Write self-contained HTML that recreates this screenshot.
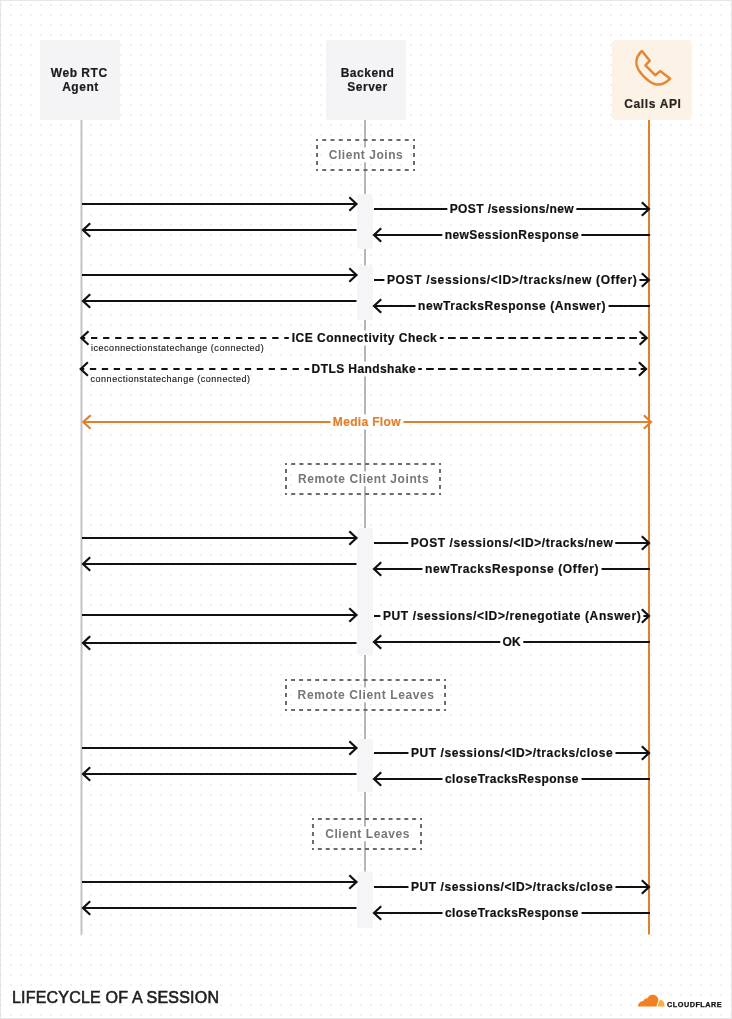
<!DOCTYPE html>
<html><head><meta charset="utf-8"><style>
html,body{margin:0;padding:0;}
body{width:732px;height:1019px;position:relative;overflow:hidden;background:#fff;will-change:transform;font-family:"Liberation Sans",sans-serif;}
#frame{position:absolute;left:0;top:0;width:730px;height:1017px;border:1px solid #e6e6e6;}
.box{position:absolute;top:40px;width:80px;height:80px;background:#f4f4f6;color:#1a1a1a;font-weight:bold;font-size:12px;text-align:center;line-height:14px;-webkit-text-stroke:0.2px currentColor}
.bt{position:absolute;left:0;right:0}
svg{position:absolute;left:0;top:0}
.lb{position:absolute;white-space:nowrap;line-height:15px;font-size:12px;font-weight:bold;transform:translate(-50%,-50%);}
.sub{position:absolute;white-space:nowrap;font-size:9px;line-height:11px;color:#1a1a1a;letter-spacing:0.53px;-webkit-text-stroke:0.15px #1a1a1a}
#title{position:absolute;left:12px;top:989px;font-size:16px;line-height:18px;color:#1f1f1f;letter-spacing:0.2px;-webkit-text-stroke:0.6px #1f1f1f}
#cf{position:absolute;left:666.5px;top:1001px;font-size:6.5px;line-height:7px;font-weight:bold;color:#111;letter-spacing:0.45px;transform:scaleX(1.12);transform-origin:0 0;-webkit-text-stroke:0.25px #111}
</style></head><body>
<div id="frame"></div>
<svg width="732" height="1019"><defs><pattern id="dots" x="0" y="0" width="10" height="10" patternUnits="userSpaceOnUse"><rect x="0" y="4" width="2" height="2" fill="#efefef"/></pattern></defs>
<rect x="1" y="1" width="730" height="1017" fill="url(#dots)"/></svg>
<div class="box" style="left:40px"><div class="bt" style="top:26px"><span style="letter-spacing:0.52px;position:relative;left:-0.8px">Web RTC</span><br><span style="letter-spacing:0.55px;position:relative;left:0.5px">Agent</span></div></div>
<div class="box" style="left:326px"><div class="bt" style="top:26px"><span style="letter-spacing:0.52px;position:relative;left:1.5px">Backend</span><br><span style="letter-spacing:0.5px;position:relative;left:1.5px">Server</span></div></div>
<div class="box" style="left:612px;background:#fdf2e6;border-radius:4px;color:#2a241f"><div class="bt" style="top:57px"><span style="letter-spacing:0.64px;position:relative;left:0.9px">Calls API</span></div></div>
<svg width="732" height="1019" viewBox="0 0 732 1019">
<path d="M641.9,51 L649.8,60.7 L645.4,65.4 L655.2,75.2 L660.2,71.1 L670,78.6 C666,83 661,85 656.5,84.5 C651,83.8 644,77.5 640,72 C635.5,66 634.5,58 641.9,51 Z" fill="none" stroke="#e6862f" stroke-width="2.5" stroke-linejoin="round"/>
<line x1="81.5" y1="120" x2="81.5" y2="934.5" stroke="#c4c4c4" stroke-width="2"/><line x1="365" y1="120" x2="365" y2="928" stroke="#b5b5b5" stroke-width="2"/><line x1="649" y1="120" x2="649" y2="934.5" stroke="#e0802d" stroke-width="2"/><rect x="357" y="194" width="16" height="55" rx="3" fill="#f5f5f7"/><rect x="357" y="265.5" width="16" height="54.5" rx="3" fill="#f5f5f7"/><rect x="357" y="528" width="16" height="127" rx="3" fill="#f5f5f7"/><rect x="357" y="739" width="16" height="53" rx="3" fill="#f5f5f7"/><rect x="357" y="871.5" width="16" height="56.5" rx="3" fill="#f5f5f7"/><line x1="316" y1="140" x2="415" y2="140" stroke="#6b6b6b" stroke-width="2" stroke-dasharray="2 4.250 4 4.250 4 4.250 4 4.250 4 4.250 4 4.250 4 4.250 4 4.250 4 4.250 4 4.250 4 4.250 4 4.250 2 100"/><line x1="316" y1="170" x2="415" y2="170" stroke="#6b6b6b" stroke-width="2" stroke-dasharray="2 4.250 4 4.250 4 4.250 4 4.250 4 4.250 4 4.250 4 4.250 4 4.250 4 4.250 4 4.250 4 4.250 4 4.250 2 100"/><line x1="317" y1="139" x2="317" y2="171" stroke="#6b6b6b" stroke-width="2" stroke-dasharray="2 4.000 4 4.000 4 4.000 4 4.000 2 100"/><line x1="414" y1="139" x2="414" y2="171" stroke="#6b6b6b" stroke-width="2" stroke-dasharray="2 4.000 4 4.000 4 4.000 4 4.000 2 100"/><line x1="285" y1="464" x2="441" y2="464" stroke="#6b6b6b" stroke-width="2" stroke-dasharray="2 4.211 4 4.211 4 4.211 4 4.211 4 4.211 4 4.211 4 4.211 4 4.211 4 4.211 4 4.211 4 4.211 4 4.211 4 4.211 4 4.211 4 4.211 4 4.211 4 4.211 4 4.211 4 4.211 2 100"/><line x1="285" y1="494" x2="441" y2="494" stroke="#6b6b6b" stroke-width="2" stroke-dasharray="2 4.211 4 4.211 4 4.211 4 4.211 4 4.211 4 4.211 4 4.211 4 4.211 4 4.211 4 4.211 4 4.211 4 4.211 4 4.211 4 4.211 4 4.211 4 4.211 4 4.211 4 4.211 4 4.211 2 100"/><line x1="286" y1="463" x2="286" y2="495" stroke="#6b6b6b" stroke-width="2" stroke-dasharray="2 4.000 4 4.000 4 4.000 4 4.000 2 100"/><line x1="440" y1="463" x2="440" y2="495" stroke="#6b6b6b" stroke-width="2" stroke-dasharray="2 4.000 4 4.000 4 4.000 4 4.000 2 100"/><line x1="285" y1="680" x2="446" y2="680" stroke="#6b6b6b" stroke-width="2" stroke-dasharray="2 4.050 4 4.050 4 4.050 4 4.050 4 4.050 4 4.050 4 4.050 4 4.050 4 4.050 4 4.050 4 4.050 4 4.050 4 4.050 4 4.050 4 4.050 4 4.050 4 4.050 4 4.050 4 4.050 4 4.050 2 100"/><line x1="285" y1="710" x2="446" y2="710" stroke="#6b6b6b" stroke-width="2" stroke-dasharray="2 4.050 4 4.050 4 4.050 4 4.050 4 4.050 4 4.050 4 4.050 4 4.050 4 4.050 4 4.050 4 4.050 4 4.050 4 4.050 4 4.050 4 4.050 4 4.050 4 4.050 4 4.050 4 4.050 4 4.050 2 100"/><line x1="286" y1="679" x2="286" y2="711" stroke="#6b6b6b" stroke-width="2" stroke-dasharray="2 4.000 4 4.000 4 4.000 4 4.000 2 100"/><line x1="445" y1="679" x2="445" y2="711" stroke="#6b6b6b" stroke-width="2" stroke-dasharray="2 4.000 4 4.000 4 4.000 4 4.000 2 100"/><line x1="312" y1="819" x2="422" y2="819" stroke="#6b6b6b" stroke-width="2" stroke-dasharray="2 3.857 4 3.857 4 3.857 4 3.857 4 3.857 4 3.857 4 3.857 4 3.857 4 3.857 4 3.857 4 3.857 4 3.857 4 3.857 4 3.857 2 100"/><line x1="312" y1="849" x2="422" y2="849" stroke="#6b6b6b" stroke-width="2" stroke-dasharray="2 3.857 4 3.857 4 3.857 4 3.857 4 3.857 4 3.857 4 3.857 4 3.857 4 3.857 4 3.857 4 3.857 4 3.857 4 3.857 4 3.857 2 100"/><line x1="313" y1="818" x2="313" y2="850" stroke="#6b6b6b" stroke-width="2" stroke-dasharray="2 4.000 4 4.000 4 4.000 4 4.000 2 100"/><line x1="421" y1="818" x2="421" y2="850" stroke="#6b6b6b" stroke-width="2" stroke-dasharray="2 4.000 4 4.000 4 4.000 4 4.000 2 100"/><line x1="82" y1="204" x2="355.5" y2="204" stroke="#111111" stroke-width="2"/><line x1="83" y1="230" x2="356.5" y2="230" stroke="#111111" stroke-width="2"/><line x1="82" y1="275" x2="355.5" y2="275" stroke="#111111" stroke-width="2"/><line x1="83" y1="301" x2="356.5" y2="301" stroke="#111111" stroke-width="2"/><line x1="82" y1="538" x2="355.5" y2="538" stroke="#111111" stroke-width="2"/><line x1="83" y1="564" x2="356.5" y2="564" stroke="#111111" stroke-width="2"/><line x1="82" y1="615" x2="355.5" y2="615" stroke="#111111" stroke-width="2"/><line x1="83" y1="643" x2="356.5" y2="643" stroke="#111111" stroke-width="2"/><line x1="82" y1="748" x2="355.5" y2="748" stroke="#111111" stroke-width="2"/><line x1="83" y1="774" x2="356.5" y2="774" stroke="#111111" stroke-width="2"/><line x1="82" y1="882" x2="355.5" y2="882" stroke="#111111" stroke-width="2"/><line x1="83" y1="908" x2="356.5" y2="908" stroke="#111111" stroke-width="2"/><line x1="374" y1="209" x2="648" y2="209" stroke="#111111" stroke-width="2"/><line x1="375" y1="235" x2="650" y2="235" stroke="#111111" stroke-width="2"/><line x1="374" y1="280" x2="648" y2="280" stroke="#111111" stroke-width="2"/><line x1="375" y1="306" x2="650" y2="306" stroke="#111111" stroke-width="2"/><line x1="374" y1="543" x2="648" y2="543" stroke="#111111" stroke-width="2"/><line x1="375" y1="569" x2="650" y2="569" stroke="#111111" stroke-width="2"/><line x1="374" y1="616" x2="648" y2="616" stroke="#111111" stroke-width="2"/><line x1="375" y1="642" x2="650" y2="642" stroke="#111111" stroke-width="2"/><line x1="374" y1="753" x2="648" y2="753" stroke="#111111" stroke-width="2"/><line x1="375" y1="779" x2="650" y2="779" stroke="#111111" stroke-width="2"/><line x1="374" y1="887" x2="648" y2="887" stroke="#111111" stroke-width="2"/><line x1="375" y1="913" x2="650" y2="913" stroke="#111111" stroke-width="2"/><line x1="82.3" y1="338" x2="365" y2="338" stroke="#111111" stroke-width="2" stroke-dasharray="6.3 5.780" stroke-dashoffset="3.380"/><line x1="365" y1="338" x2="645.8" y2="338" stroke="#111111" stroke-width="2" stroke-dasharray="7.7 4.380" stroke-dashoffset="1.560"/><line x1="81.7" y1="369" x2="365" y2="369" stroke="#111111" stroke-width="2" stroke-dasharray="6.3 5.620" stroke-dashoffset="3.720"/><line x1="365" y1="369" x2="645.1" y2="369" stroke="#111111" stroke-width="2" stroke-dasharray="7.7 4.220" stroke-dashoffset="10.460"/><line x1="83" y1="422" x2="650" y2="422" stroke="#e0802d" stroke-width="2"/>
<path d="M638,1006.6 C638,1003.6 640,1001.2 643.3,1001 C644.2,999 645.8,998.1 647.5,998.2 C648.6,995.9 650.5,994.8 652.8,994.8 C656,994.8 658.4,997.3 658.4,1000.3 L656.4,1006.6 Z" fill="#f38020"/>
<path d="M657.4,1006.6 L659.1,1001.3 C659.5,1000.5 660.1,1000 661,1000 C663.2,1000 664.6,1003 664.6,1006.6 Z" fill="#fbad41"/>
</svg>
<div class="lb" style="left:365.77px;top:154.7px;color:#777777;-webkit-text-stroke:0px #777777;letter-spacing:0.542px;background:#fff;padding:0 1.46px 0 2px">Client Joins</div><div class="lb" style="left:363.30px;top:478.7px;color:#777777;-webkit-text-stroke:0px #777777;letter-spacing:0.596px;background:#fff;padding:0 1.40px 0 2px">Remote Client Joints</div><div class="lb" style="left:365.81px;top:694.7px;color:#777777;-webkit-text-stroke:0px #777777;letter-spacing:0.614px;background:#fff;padding:0 1.39px 0 2px">Remote Client Leaves</div><div class="lb" style="left:367.28px;top:833.7px;color:#777777;-webkit-text-stroke:0px #777777;letter-spacing:0.559px;background:#fff;padding:0 1.44px 0 2px">Client Leaves</div><div class="lb" style="left:511.69px;top:209px;color:#111111;-webkit-text-stroke:0.2px #111111;letter-spacing:0.386px;background:#fff;padding:0 2.31px 0 2.7px">POST /sessions/new</div><div class="lb" style="left:511.71px;top:235px;color:#111111;-webkit-text-stroke:0.2px #111111;letter-spacing:0.427px;background:#fff;padding:0 2.27px 0 2.7px">newSessionResponse</div><div class="lb" style="left:511.83px;top:280px;color:#111111;-webkit-text-stroke:0.2px #111111;letter-spacing:0.659px;background:#fff;padding:0 2.04px 0 2.7px">POST /sessions/&lt;ID&gt;/tracks/new (Offer)</div><div class="lb" style="left:511.78px;top:306px;color:#111111;-webkit-text-stroke:0.2px #111111;letter-spacing:0.564px;background:#fff;padding:0 2.14px 0 2.7px">newTracksResponse (Answer)</div><div class="lb" style="left:511.79px;top:543px;color:#111111;-webkit-text-stroke:0.2px #111111;letter-spacing:0.576px;background:#fff;padding:0 2.12px 0 2.7px">POST /sessions/&lt;ID&gt;/tracks/new</div><div class="lb" style="left:511.81px;top:569px;color:#111111;-webkit-text-stroke:0.2px #111111;letter-spacing:0.62px;background:#fff;padding:0 2.08px 0 2.7px">newTracksResponse (Offer)</div><div class="lb" style="left:511.81px;top:616px;color:#111111;-webkit-text-stroke:0.2px #111111;letter-spacing:0.624px;background:#fff;padding:0 2.08px 0 2.7px">PUT /sessions/&lt;ID&gt;/renegotiate (Answer)</div><div class="lb" style="left:511.53px;top:642px;color:#111111;-webkit-text-stroke:0.2px #111111;letter-spacing:0.066px;background:#fff;padding:0 2.63px 0 2.7px">OK</div><div class="lb" style="left:511.79px;top:753px;color:#111111;-webkit-text-stroke:0.2px #111111;letter-spacing:0.586px;background:#fff;padding:0 2.11px 0 2.7px">PUT /sessions/&lt;ID&gt;/tracks/close</div><div class="lb" style="left:511.71px;top:779px;color:#111111;-webkit-text-stroke:0.2px #111111;letter-spacing:0.417px;background:#fff;padding:0 2.28px 0 2.7px">closeTracksResponse</div><div class="lb" style="left:511.79px;top:887px;color:#111111;-webkit-text-stroke:0.2px #111111;letter-spacing:0.586px;background:#fff;padding:0 2.11px 0 2.7px">PUT /sessions/&lt;ID&gt;/tracks/close</div><div class="lb" style="left:511.71px;top:913px;color:#111111;-webkit-text-stroke:0.2px #111111;letter-spacing:0.417px;background:#fff;padding:0 2.28px 0 2.7px">closeTracksResponse</div><div class="lb" style="left:364.29px;top:338px;color:#111111;-webkit-text-stroke:0.2px #111111;letter-spacing:0.489px;background:#fff;padding:0 2.21px 0 2.7px">ICE Connectivity Check</div><div class="lb" style="left:363.61px;top:369px;color:#111111;-webkit-text-stroke:0.2px #111111;letter-spacing:0.414px;background:#fff;padding:0 2.29px 0 2.7px">DTLS Handshake</div><div class="lb" style="left:366.66px;top:422px;color:#e0802d;-webkit-text-stroke:0.2px #e0802d;letter-spacing:0.329px;background:#fff;padding:0 2.37px 0 2.7px">Media Flow</div><div class="sub" style="left:91px;top:343px">iceconnectionstatechange (connected)</div><div class="sub" style="left:90.5px;top:374px">connectionstatechange (connected)</div>
<svg width="732" height="1019" viewBox="0 0 732 1019"><polyline points="349.3,197.2 356.5,204 349.3,210.8" fill="none" stroke="#111111" stroke-width="2.2" stroke-linejoin="miter" stroke-miterlimit="4"/><polyline points="90.2,223.2 83,230 90.2,236.8" fill="none" stroke="#111111" stroke-width="2.2" stroke-linejoin="miter" stroke-miterlimit="4"/><polyline points="349.3,268.2 356.5,275 349.3,281.8" fill="none" stroke="#111111" stroke-width="2.2" stroke-linejoin="miter" stroke-miterlimit="4"/><polyline points="90.2,294.2 83,301 90.2,307.8" fill="none" stroke="#111111" stroke-width="2.2" stroke-linejoin="miter" stroke-miterlimit="4"/><polyline points="349.3,531.2 356.5,538 349.3,544.8" fill="none" stroke="#111111" stroke-width="2.2" stroke-linejoin="miter" stroke-miterlimit="4"/><polyline points="90.2,557.2 83,564 90.2,570.8" fill="none" stroke="#111111" stroke-width="2.2" stroke-linejoin="miter" stroke-miterlimit="4"/><polyline points="349.3,608.2 356.5,615 349.3,621.8" fill="none" stroke="#111111" stroke-width="2.2" stroke-linejoin="miter" stroke-miterlimit="4"/><polyline points="90.2,636.2 83,643 90.2,649.8" fill="none" stroke="#111111" stroke-width="2.2" stroke-linejoin="miter" stroke-miterlimit="4"/><polyline points="349.3,741.2 356.5,748 349.3,754.8" fill="none" stroke="#111111" stroke-width="2.2" stroke-linejoin="miter" stroke-miterlimit="4"/><polyline points="90.2,767.2 83,774 90.2,780.8" fill="none" stroke="#111111" stroke-width="2.2" stroke-linejoin="miter" stroke-miterlimit="4"/><polyline points="349.3,875.2 356.5,882 349.3,888.8" fill="none" stroke="#111111" stroke-width="2.2" stroke-linejoin="miter" stroke-miterlimit="4"/><polyline points="90.2,901.2 83,908 90.2,914.8" fill="none" stroke="#111111" stroke-width="2.2" stroke-linejoin="miter" stroke-miterlimit="4"/><polyline points="641.8,202.2 649,209 641.8,215.8" fill="none" stroke="#111111" stroke-width="2.2" stroke-linejoin="miter" stroke-miterlimit="4"/><polyline points="381.2,228.2 374,235 381.2,241.8" fill="none" stroke="#111111" stroke-width="2.2" stroke-linejoin="miter" stroke-miterlimit="4"/><polyline points="641.8,273.2 649,280 641.8,286.8" fill="none" stroke="#111111" stroke-width="2.2" stroke-linejoin="miter" stroke-miterlimit="4"/><polyline points="381.2,299.2 374,306 381.2,312.8" fill="none" stroke="#111111" stroke-width="2.2" stroke-linejoin="miter" stroke-miterlimit="4"/><polyline points="641.8,536.2 649,543 641.8,549.8" fill="none" stroke="#111111" stroke-width="2.2" stroke-linejoin="miter" stroke-miterlimit="4"/><polyline points="381.2,562.2 374,569 381.2,575.8" fill="none" stroke="#111111" stroke-width="2.2" stroke-linejoin="miter" stroke-miterlimit="4"/><polyline points="641.8,609.2 649,616 641.8,622.8" fill="none" stroke="#111111" stroke-width="2.2" stroke-linejoin="miter" stroke-miterlimit="4"/><polyline points="381.2,635.2 374,642 381.2,648.8" fill="none" stroke="#111111" stroke-width="2.2" stroke-linejoin="miter" stroke-miterlimit="4"/><polyline points="641.8,746.2 649,753 641.8,759.8" fill="none" stroke="#111111" stroke-width="2.2" stroke-linejoin="miter" stroke-miterlimit="4"/><polyline points="381.2,772.2 374,779 381.2,785.8" fill="none" stroke="#111111" stroke-width="2.2" stroke-linejoin="miter" stroke-miterlimit="4"/><polyline points="641.8,880.2 649,887 641.8,893.8" fill="none" stroke="#111111" stroke-width="2.2" stroke-linejoin="miter" stroke-miterlimit="4"/><polyline points="381.2,906.2 374,913 381.2,919.8" fill="none" stroke="#111111" stroke-width="2.2" stroke-linejoin="miter" stroke-miterlimit="4"/><polyline points="88.5,331.2 81.3,338 88.5,344.8" fill="none" stroke="#111111" stroke-width="2.2" stroke-linejoin="miter" stroke-miterlimit="4"/><polyline points="639.5999999999999,331.2 646.8,338 639.5999999999999,344.8" fill="none" stroke="#111111" stroke-width="2.2" stroke-linejoin="miter" stroke-miterlimit="4"/><polyline points="87.9,362.2 80.7,369 87.9,375.8" fill="none" stroke="#111111" stroke-width="2.2" stroke-linejoin="miter" stroke-miterlimit="4"/><polyline points="638.9,362.2 646.1,369 638.9,375.8" fill="none" stroke="#111111" stroke-width="2.2" stroke-linejoin="miter" stroke-miterlimit="4"/><polyline points="90.5,415.2 83.3,422 90.5,428.8" fill="none" stroke="#e0802d" stroke-width="2.2" stroke-linejoin="miter" stroke-miterlimit="4"/><polyline points="643.8,415.2 651,422 643.8,428.8" fill="none" stroke="#e0802d" stroke-width="2.2" stroke-linejoin="miter" stroke-miterlimit="4"/></svg>
<div id="title">LIFECYCLE OF A SESSION</div>
<div id="cf">CLOUDFLARE</div>
</body></html>
